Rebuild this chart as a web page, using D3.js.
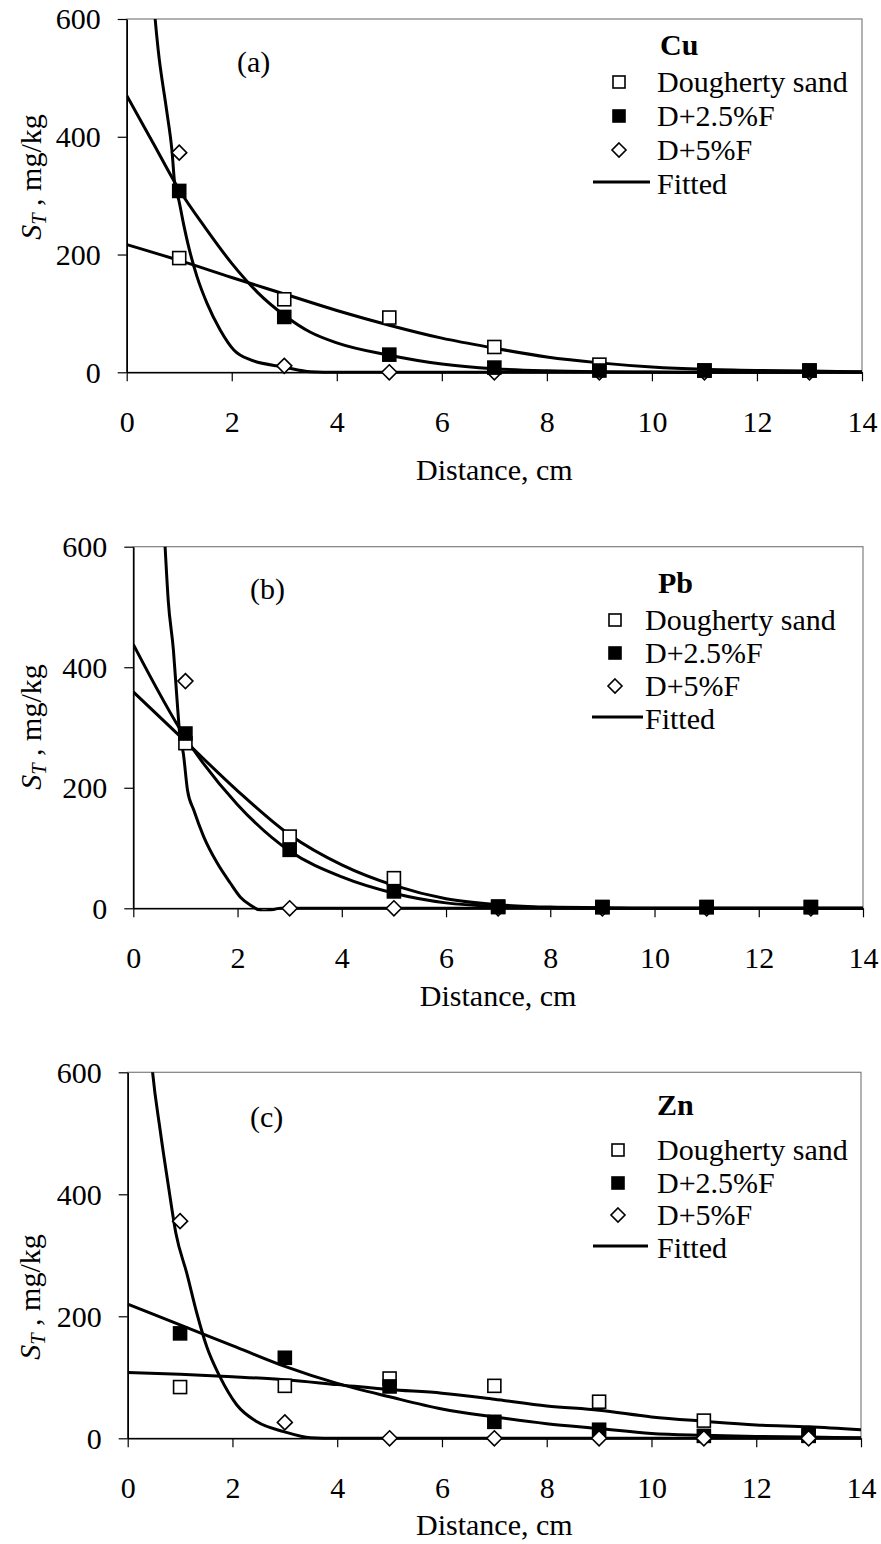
<!DOCTYPE html>
<html>
<head>
<meta charset="utf-8">
<script src="https://cdn.jsdelivr.net/npm/d3@7"></script>
<style>
  html, body { margin: 0; padding: 0; background: #fff; }
  svg text { font-family: "Liberation Serif", "Tinos", "Times New Roman", "Nimbus Roman", "DejaVu Serif", serif; fill: #000; }
</style>
</head>
<body>
<svg id="chart" width="881" height="1544"></svg>
<script>
// ---------------- data ----------------
const xTicks = [0, 2, 4, 6, 8, 10, 12, 14];
const yTicks = [0, 200, 400, 600];
const seriesNames = ["Dougherty sand", "D+2.5%F", "D+5%F"];
const fittedName = "Fitted";
const metals = ["Cu", "Pb", "Zn"];
const panelLabels = ["(a)", "(b)", "(c)"];
const distance = [1, 3, 5, 7, 9, 11, 13];

// (a) Cu
const cuSand = [194, 124, 93, 43, 13, 3, 3];
const cuF25  = [308, 94, 30, 8, 3, 3, 3];
const cuF5   = [373, 11, 0, 0, 0, 0, 0];
const cuFitSand = [[0,217],[1,190],[2,161],[3,133],[4,105],[5,80],[6,58],[7,41],[8,26],[9,16],[10,9],[11,5],[12,3],[13,2],[14,1]];
const cuFitF25  = [[0,470],[0.5,390],[1,310],[1.5,245],[2,185],[2.5,135],[3,97],[3.5,68],[4,50],[5,29],[6,14],[7,6],[8,2.5],[9,1],[10,0.5],[11,0],[14,0]];
const cuFitF5   = [[0.45,700],[0.51,632],[0.6,547],[0.76,445],[0.86,378],[0.92,315],[0.99,293],[1.08,253],[1.18,213],[1.34,162],[1.53,117],[1.78,72],[2.04,38],[2.36,21],[3.0,9],[3.5,1],[4,0],[14,0]];

// (b) Pb
const pbSand = [274, 119, 50, 3, 2, 2, 2];
const pbF25  = [290, 97, 28, 2, 2, 2, 2];
const pbF5   = [377, 0, 0, 0, 0, 0, 0];
const pbFitSand = [[0,359],[1,277],[2,195],[3,122],[4,72],[5,38],[6,16],[7,6],[8,2],[9,1],[10,0],[14,0]];
const pbFitF25  = [[0,438],[1,283],[2,172],[3,95],[4,52],[5,25],[6,9],[7,3],[8,1],[9,0],[14,0]];
const pbFitF5   = [[0.55,700],[0.61,600],[0.67,511],[0.77,428],[0.84,345],[0.89,290],[0.96,257],[1.04,196],[1.16,163],[1.35,119],[1.61,75],[1.86,42],[2.06,18],[2.25,5],[2.51,-5],[2.83,0],[3.5,0],[14,0]];

// (c) Zn
const znSand = [84, 86, 98, 86, 60, 29, 5];
const znF25  = [172, 132, 85, 27, 14, 4, 4];
const znF5   = [356, 26, 0, 0, 0, 0, 0];
const znFitSand = [[0,108],[1,105],[2,101],[3,96],[4,88],[5,80],[6,74],[7,64],[8,53],[9,46],[10,35],[11,28],[12,22],[13,19],[14,14]];
const znFitF25  = [[0,220],[1,186],[2,152],[3,118],[4,90],[5,68],[6,48],[7,35],[8,24],[9,16],[10,8],[11,5],[12,3],[13,2],[14,1]];
const znFitF5   = [[0.4,680],[0.46,614],[0.62,505],[0.78,412],[0.92,336],[1.13,270],[1.32,205],[1.51,150],[1.76,101],[2.08,55],[2.47,27],[2.98,11],[3.49,1],[4,0],[14,0]];

// ---------------- layout ----------------
const panels = [
  { metal: metals[0], label: panelLabels[0], obs: [cuSand, cuF25, cuF5], fit: [cuFitSand, cuFitF25, cuFitF5],
    order: [0, 2, 1],
    box: { l: 126.7, r: 862, t: 19, b: 372.3 },
    lab: { x: 237, y: 72 }, xTitleDy: 108, yTitle: { x: 41, y: 177 },
    leg: { titleX: 660, textX: 657, markX: 619, lineX1: 593, lineX2: 650, titleY: 55, rows: [92, 126, 160, 194] } },
  { metal: metals[1], label: panelLabels[1], obs: [pbSand, pbF25, pbF5], fit: [pbFitSand, pbFitF25, pbFitF5],
    order: [0, 2, 1],
    box: { l: 133.3, r: 863, t: 546.7, b: 908.3 },
    lab: { x: 250, y: 599 }, xTitleDy: 98, yTitle: { x: 41, y: 727 },
    leg: { titleX: 658, textX: 645, markX: 615, lineX1: 592, lineX2: 643, titleY: 593, rows: [630, 663, 696, 729] } },
  { metal: metals[2], label: panelLabels[2], obs: [znSand, znF25, znF5], fit: [znFitSand, znFitF25, znFitF5],
    order: [0, 1, 2],
    box: { l: 127.7, r: 861, t: 1072.3, b: 1438.3 },
    lab: { x: 250, y: 1127 }, xTitleDy: 97, yTitle: { x: 40, y: 1297 },
    leg: { titleX: 657, textX: 657, markX: 618, lineX1: 593, lineX2: 648, titleY: 1115, rows: [1160, 1193, 1225, 1258] } }
];

const FS = 30;           // font size
const MS = 13;           // marker size
const FONT = '"Liberation Serif", "Tinos", "Times New Roman", "Nimbus Roman", "DejaVu Serif", serif';
const svg = d3.select("#chart");

function drawMarker(g, type, cx, cy, size) {
  const h = size / 2;
  if (type === 0) {
    g.append("rect").attr("x", cx - h).attr("y", cy - h).attr("width", size).attr("height", size)
      .attr("fill", "#fff").attr("stroke", "#000").attr("stroke-width", 1.6);
  } else if (type === 1) {
    g.append("rect").attr("x", cx - h).attr("y", cy - h).attr("width", size).attr("height", size)
      .attr("fill", "#000").attr("stroke", "#000").attr("stroke-width", 1.6);
  } else {
    const d = h + 1;
    g.append("path").attr("d", `M${cx},${cy - d}L${cx + d},${cy}L${cx},${cy + d}L${cx - d},${cy}Z`)
      .attr("fill", "#fff").attr("stroke", "#000").attr("stroke-width", 1.6);
  }
}

panels.forEach((p, pi) => {
  const B = p.box;
  const x = d3.scaleLinear().domain([0, 14]).range([B.l, B.r]);
  const y = d3.scaleLinear().domain([0, 600]).range([B.b, B.t]);
  const g = svg.append("g");

  // plot-area border (top & right gray)
  g.append("rect").attr("x", B.l).attr("y", B.t).attr("width", B.r - B.l).attr("height", B.b - B.t)
    .attr("fill", "none").attr("stroke", "#7f7f7f").attr("stroke-width", 1.2);

  // axes
  const xAxis = d3.axisBottom(x).tickValues(xTicks).tickSize(9).tickSizeOuter(0).tickFormat(d3.format("d"));
  const yAxis = d3.axisLeft(y).tickValues(yTicks).tickSize(9).tickSizeOuter(0).tickFormat(d3.format("d"));
  const gx = g.append("g").attr("transform", `translate(0,${B.b})`).call(xAxis);
  const gy = g.append("g").attr("transform", `translate(${B.l},0)`).call(yAxis);
  [gx, gy].forEach(a => {
    a.attr("font-family", FONT).attr("font-size", FS);
    a.select(".domain").attr("stroke", "#000").attr("stroke-width", 1.6);
    a.selectAll(".tick line").attr("stroke", "#000").attr("stroke-width", 1.2);
    a.selectAll("text").attr("font-size", FS).attr("fill", "#000");
  });
  gx.selectAll(".tick text").attr("y", 0).attr("dy", 0).attr("transform", "translate(0,60)");
  gy.selectAll(".tick text").attr("x", -26).attr("dy", "0.33em");

  // axis titles
  g.append("text").attr("x", (B.l + B.r) / 2).attr("y", B.b + p.xTitleDy)
    .attr("text-anchor", "middle").attr("font-size", FS).text("Distance, cm");
  const yt = g.append("text").attr("transform", `translate(${p.yTitle.x},${p.yTitle.y}) rotate(-90)`)
    .attr("text-anchor", "middle").attr("font-size", FS);
  yt.append("tspan").attr("font-style", "italic").text("S");
  yt.append("tspan").attr("font-style", "italic").attr("font-size", FS * 0.68).attr("dy", 5).text("T");
  yt.append("tspan").attr("dy", -5).text(" , mg/kg");

  // panel label
  g.append("text").attr("x", p.lab.x).attr("y", p.lab.y).attr("font-size", FS).text(p.label);

  // fitted curves (clipped)
  const clipId = "clip" + pi;
  svg.append("clipPath").attr("id", clipId).append("rect")
    .attr("x", B.l).attr("y", B.t).attr("width", B.r - B.l).attr("height", B.b - B.t + 3);
  const line = d3.line().x(d => x(d[0])).y(d => y(d[1])).curve(d3.curveMonotoneX);
  const gc = g.append("g").attr("clip-path", `url(#${clipId})`);
  p.fit.forEach(f => {
    gc.append("path").attr("d", line(f)).attr("fill", "none").attr("stroke", "#000")
      .attr("stroke-width", 3).attr("stroke-linejoin", "round");
  });

  // observed markers
  p.order.forEach(si => {
    const gm = g.append("g");
    p.obs[si].forEach((v, i) => drawMarker(gm, si, x(distance[i]), y(v), MS));
  });

  // legend
  const L = p.leg;
  g.append("text").attr("x", L.titleX).attr("y", L.titleY).attr("font-size", FS).attr("font-weight", "bold").text(p.metal);
  seriesNames.forEach((name, i) => {
    drawMarker(g, i, L.markX, L.rows[i] - 10, 12);
    g.append("text").attr("x", L.textX).attr("y", L.rows[i]).attr("font-size", FS).text(name);
  });
  g.append("line").attr("x1", L.lineX1).attr("x2", L.lineX2).attr("y1", L.rows[3] - 12).attr("y2", L.rows[3] - 12)
    .attr("stroke", "#000").attr("stroke-width", 3);
  g.append("text").attr("x", L.textX).attr("y", L.rows[3]).attr("font-size", FS).text(fittedName);
});
</script>
</body>
</html>
